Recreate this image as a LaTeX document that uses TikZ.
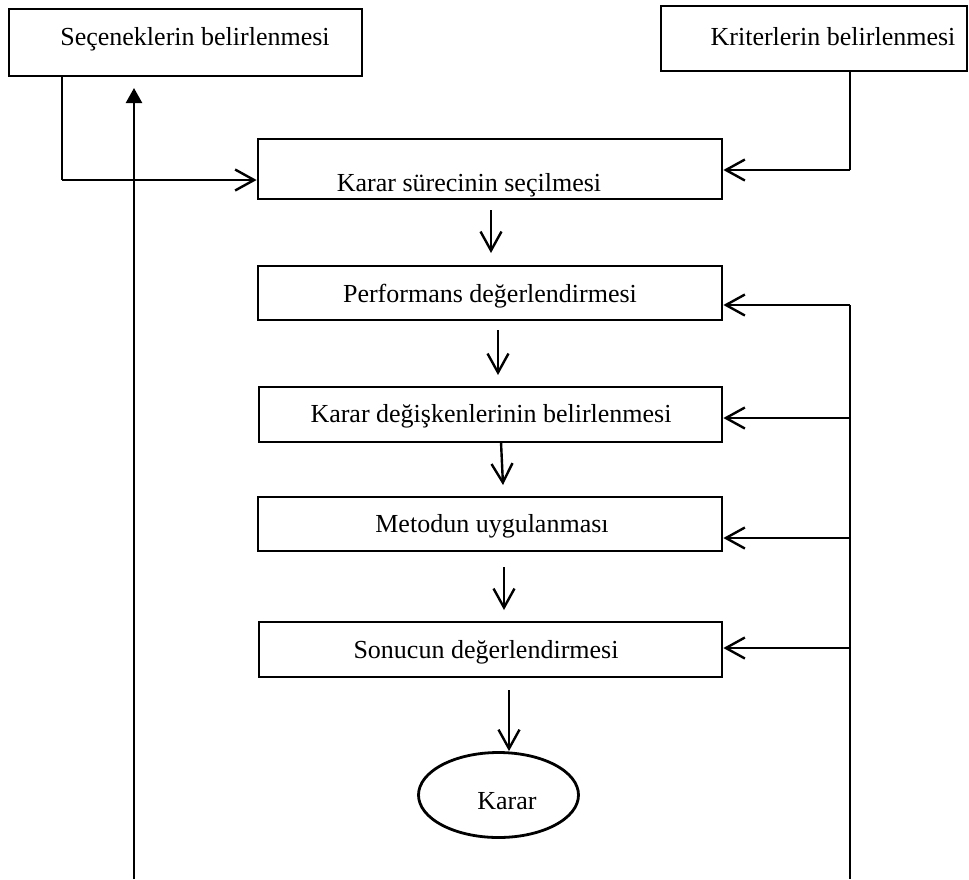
\documentclass[tikz,border=0pt]{standalone}
\usepackage{fontspec}
\setmainfont{Liberation Serif}
\usetikzlibrary{arrows.meta,shapes.geometric}
\begin{document}
\begin{tikzpicture}[x=1pt,y=-1pt,
  box/.style={draw,line width=2.8pt,rectangle,inner sep=0pt},
  oval/.style={draw,line width=2.8pt,ellipse,inner sep=0pt,minimum width=160pt,minimum height=85pt},
  lbl/.style={anchor=base,inner sep=0pt,font=\fontsize{26}{30}\selectfont},
  flow/.style={line width=2.4pt,-{Straight Barb[length=19pt,width=21pt,line width=2.4pt]}},
  feed/.style={line width=1.8pt},
  feedarr/.style={line width=2.4pt,-{Straight Barb[length=19pt,width=21pt,line width=2.4pt]}},
  back/.style={line width=2.4pt,-{Triangle[length=15pt,width=16pt]}}]
\useasboundingbox (0,0) rectangle (969,879);

% boxes
\node[box,minimum width=353pt,minimum height=67pt] (sec) at (185.5,42.5) {};
\node[box,minimum width=306pt,minimum height=65pt] (krit) at (814,38.5) {};
\node[box,minimum width=464pt,minimum height=60pt] (ks) at (490,169) {};
\node[box,minimum width=464pt,minimum height=54pt] (perf) at (490,293) {};
\node[box,minimum width=463pt,minimum height=55pt] (kd) at (490.5,414.5) {};
\node[box,minimum width=464pt,minimum height=54pt] (met) at (490,524) {};
\node[box,minimum width=463pt,minimum height=55pt] (son) at (490.5,649.5) {};
\node[oval] (karar) at (498.5,795) {};

% texts
\node[lbl] (tsec) at (195,45) {Seçeneklerin belirlenmesi};
\node[lbl] (tkrit) at (833,45) {Kriterlerin belirlenmesi};
\node[lbl] (tks) at (469,191) {Karar sürecinin seçilmesi};
\node[lbl] (tperf) at (490,302) {Performans değerlendirmesi};
\node[lbl] (tkd) at (491,422) {Karar değişkenlerinin belirlenmesi};
\node[lbl] (tmet) at (492,532) {Metodun uygulanması};
\node[lbl] (tson) at (486,658) {Sonucun değerlendirmesi};
\node[lbl] (tkarar) at (507,809) {Karar};

% inputs into the process box
\coordinate (c1) at (62,180);
\draw[feed] (c1 |- sec.south) -- (c1);
\draw[flow] (c1) -- (c1 -| ks.west);
\coordinate (c2) at (850,170);
\draw[feed] (c2 |- krit.south) -- (c2);
\draw[flow] (c2) -- (c2 -| ks.east);

% main chain
\coordinate (a1) at (491,210); \coordinate (a1e) at (491,253);
\draw[flow] (a1) -- (a1e);
\coordinate (a2) at (498,330); \coordinate (a2e) at (498,375);
\draw[flow] (a2) -- (a2e);
\coordinate (a3) at (501,442); \coordinate (a3e) at (503,485);
\draw[flow] (a3) -- (a3e);
\coordinate (a4) at (504,567); \coordinate (a4e) at (504,610);
\draw[flow] (a4) -- (a4e);
\coordinate (a5) at (509,690);
\draw[flow] (a5) -- (karar.north -| a5);

% feedback on the right
\coordinate (f0) at (850,305);
\coordinate (fb) at (850,879);
\draw[feed] (f0) -- (fb);
\draw[feedarr] (f0) -- (f0 -| perf.east);
\coordinate (f1) at (850,418);
\draw[feedarr] (f1) -- (f1 -| kd.east);
\coordinate (f2) at (850,538);
\draw[feedarr] (f2) -- (f2 -| met.east);
\coordinate (f3) at (850,648);
\draw[feedarr] (f3) -- (f3 -| son.east);

% return line on the left
\coordinate (r0) at (134,879);
\coordinate (r1) at (134,88);
\draw[back] (r0) -- (r1);
\end{tikzpicture}
\end{document}
